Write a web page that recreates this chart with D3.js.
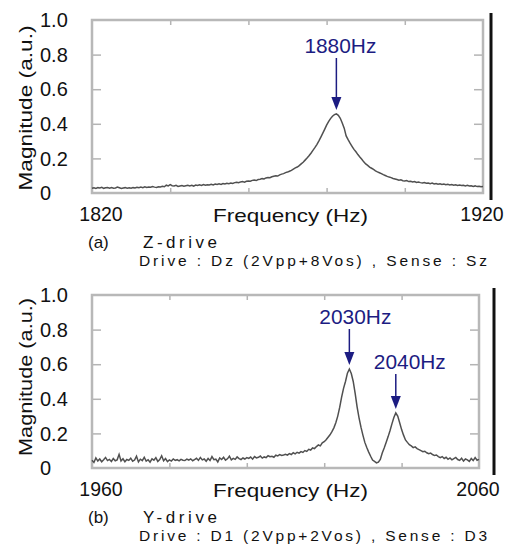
<!DOCTYPE html>
<html>
<head>
<meta charset="utf-8">
<script src="https://cdn.jsdelivr.net/npm/d3@7"></script>
<style>
  body { margin: 0; background: #fff; }
  text { font-family: "Liberation Sans", Arial, sans-serif; }
</style>
</head>
<body>
<div id="viz"></div>
<script>
// z-drive sweep, 1820..1920 Hz every 0.5 Hz
var zStart = 1820, zStep = 0.5;
var zMag = [
  0.028,0.030,0.026,0.031,0.029,0.033,0.027,0.030,0.032,0.028,
  0.031,0.027,0.029,0.034,0.030,0.026,0.029,0.031,0.028,0.030,
  0.027,0.031,0.029,0.033,0.030,0.034,0.031,0.036,0.032,0.035,
  0.033,0.037,0.034,0.032,0.036,0.035,0.039,0.036,0.045,0.041,
  0.048,0.042,0.040,0.044,0.038,0.041,0.043,0.039,0.042,0.045,
  0.041,0.044,0.040,0.046,0.043,0.047,0.044,0.049,0.045,0.048,
  0.046,0.050,0.047,0.052,0.049,0.053,0.050,0.055,0.052,0.056,
  0.054,0.058,0.055,0.060,0.062,0.059,0.064,0.066,0.063,0.068,
  0.070,0.068,0.073,0.075,0.072,0.078,0.080,0.083,0.081,0.087,
  0.090,0.088,0.094,0.097,0.100,0.098,0.105,0.109,0.112,0.118,
  0.121,0.126,0.131,0.138,0.145,0.150,0.158,0.168,0.178,0.190,
  0.202,0.215,0.230,0.246,0.262,0.280,0.300,0.322,0.345,0.368,
  0.392,0.412,0.430,0.444,0.453,0.457,0.449,0.432,0.405,0.375,
  0.330,0.308,0.288,0.270,0.252,0.238,0.222,0.208,0.195,0.180,
  0.168,0.160,0.150,0.143,0.136,0.128,0.122,0.117,0.112,0.106,
  0.101,0.096,0.092,0.089,0.084,0.081,0.078,0.074,0.076,0.071,
  0.069,0.072,0.066,0.068,0.064,0.066,0.061,0.063,0.060,0.058,
  0.060,0.056,0.058,0.054,0.057,0.052,0.055,0.051,0.053,0.049,
  0.052,0.048,0.050,0.047,0.049,0.045,0.048,0.044,0.046,0.043,
  0.045,0.041,0.044,0.040,0.042,0.038,0.041,0.037,0.039,0.036,
  0.037
];

// y-drive sweep, 1960..2060 Hz every 0.5 Hz
var yStart = 1960, yStep = 0.5;
var yMag = [
  0.045,0.032,0.058,0.040,0.052,0.036,0.048,0.061,0.043,0.050,
  0.038,0.055,0.042,0.047,0.079,0.041,0.053,0.036,0.049,0.044,
  0.057,0.039,0.046,0.068,0.035,0.051,0.043,0.062,0.040,0.048,
  0.034,0.053,0.045,0.060,0.038,0.049,0.071,0.042,0.055,0.037,
  0.047,0.040,0.052,0.044,0.048,0.041,0.050,0.045,0.043,0.051,
  0.046,0.053,0.042,0.049,0.056,0.044,0.061,0.047,0.052,0.039,
  0.055,0.043,0.066,0.048,0.051,0.035,0.058,0.049,0.062,0.045,
  0.053,0.068,0.047,0.056,0.050,0.064,0.054,0.049,0.058,0.052,
  0.060,0.055,0.063,0.051,0.066,0.058,0.062,0.069,0.057,0.064,
  0.060,0.071,0.065,0.068,0.062,0.074,0.070,0.077,0.072,0.075,
  0.079,0.074,0.083,0.078,0.088,0.082,0.091,0.086,0.095,0.090,
  0.101,0.096,0.108,0.104,0.116,0.112,0.124,0.133,0.128,0.145,
  0.152,0.163,0.178,0.192,0.210,0.232,0.262,0.300,0.350,0.410,
  0.460,0.500,0.548,0.572,0.546,0.500,0.432,0.354,0.290,0.236,
  0.190,0.148,0.118,0.092,0.068,0.046,0.038,0.030,0.034,0.050,
  0.087,0.115,0.148,0.180,0.215,0.255,0.292,0.318,0.300,0.262,
  0.222,0.190,0.162,0.148,0.135,0.128,0.118,0.122,0.112,0.106,
  0.100,0.094,0.097,0.088,0.083,0.086,0.078,0.072,0.075,0.066,
  0.060,0.066,0.055,0.062,0.050,0.058,0.047,0.054,0.061,0.049,
  0.044,0.056,0.040,0.052,0.047,0.038,0.055,0.043,0.060,0.045,
  0.050
];

var yTicks = [0, 0.2, 0.4, 0.6, 0.8, 1.0];
var yTickLabels = ["0", "0.2", "0.4", "0.6", "0.8", "1.0"];
var zFreqTicks = [1820, 1840, 1860, 1880, 1900, 1920];
var yFreqTicks = [1960, 1980, 2000, 2020, 2040, 2060];

var zPeaks = [{ f: 1882.5, v: 0.457, label: "1880Hz" }];
var yPeaks = [{ f: 2026.5, v: 0.572, label: "2030Hz" },
              { f: 2038.5, v: 0.318, label: "2040Hz" }];

var navy = "#1c1c82";

var svg = d3.select("#viz").append("svg")
  .attr("width", 516)
  .attr("height", 548);

function panel(o) {
  var data = o.mag.map(function(m, i) { return { f: o.start + i * o.step, m: m }; });
  var x = d3.scaleLinear().domain([o.ticks[0], o.ticks[o.ticks.length - 1]]).range([o.left, o.right]);
  var y = d3.scaleLinear().domain([0, 1]).range([o.bottom, o.top]);
  var g = svg.append("g");

  // inner ticks on all four sides
  g.append("g").attr("transform", "translate(0," + o.top + ")")
    .call(d3.axisTop(x).tickValues(o.ticks.slice(1, -1)).tickSize(-5).tickFormat(""));
  g.append("g").attr("transform", "translate(0," + o.bottom + ")")
    .call(d3.axisBottom(x).tickValues(o.ticks.slice(1, -1)).tickSize(-5).tickFormat(""));
  g.append("g").attr("transform", "translate(" + o.left + ",0)")
    .call(d3.axisLeft(y).tickValues(yTicks.slice(1, -1)).tickSize(-9).tickFormat(""));
  g.append("g").attr("transform", "translate(" + o.right + ",0)")
    .call(d3.axisRight(y).tickValues(yTicks.slice(1, -1)).tickSize(-9).tickFormat(""));
  g.selectAll(".domain").remove();
  g.selectAll(".tick line").attr("stroke", "#b4b4b4").attr("stroke-width", 1.5);

  g.append("rect")
    .attr("x", o.left).attr("y", o.top)
    .attr("width", o.right - o.left).attr("height", o.bottom - o.top)
    .attr("fill", "none").attr("stroke", "#b8b8b8").attr("stroke-width", 2.5);

  g.append("path").datum(data)
    .attr("fill", "none")
    .attr("stroke", "#505050")
    .attr("stroke-width", 1.5)
    .attr("d", d3.line().x(function(d) { return x(d.f); }).y(function(d) { return y(d.m); }));

  // black bar on the right
  g.append("line")
    .attr("x1", o.bar).attr("x2", o.bar)
    .attr("y1", o.top - 7).attr("y2", o.bottom + 7)
    .attr("stroke", "#111").attr("stroke-width", 3);

  // y tick labels, left aligned
  g.selectAll(".ylab").data(yTicks).enter().append("text")
    .attr("x", 40)
    .attr("y", function(d) { return y(d); })
    .attr("dy", "0.36em")
    .attr("font-size", 20)
    .attr("fill", "#111")
    .text(function(d, i) { return yTickLabels[i]; });

  // end frequency labels
  var ends = [o.ticks[0], o.ticks[o.ticks.length - 1]];
  g.selectAll(".xlab").data(ends).enter().append("text")
    .attr("x", function(d, i) { return x(d) + (i == 0 ? 9 : -1); })
    .attr("y", o.bottom + 28)
    .attr("text-anchor", "middle")
    .attr("font-size", 19.5)
    .attr("fill", "#111")
    .text(function(d) { return d; });

  g.append("text")
    .attr("x", 213).attr("y", o.bottom + 29)
    .attr("font-size", 19).attr("fill", "#111")
    .attr("textLength", 155).attr("lengthAdjust", "spacingAndGlyphs")
    .text("Frequency (Hz)");

  g.append("text")
    .attr("transform", "translate(32," + o.titleY + ") rotate(-90)")
    .attr("text-anchor", "middle")
    .attr("font-size", 19).attr("fill", "#111")
    .attr("textLength", o.titleLen).attr("lengthAdjust", "spacingAndGlyphs")
    .text("Magnitude (a.u.)");

  // captions
  g.append("text").attr("x", 88).attr("y", o.bottom + 55)
    .attr("font-size", 17).attr("fill", "#111").text(o.tag);
  g.append("text").attr("x", 143).attr("y", o.bottom + 55)
    .attr("font-size", 17).attr("fill", "#111")
    .attr("textLength", 74).attr("lengthAdjust", "spacing")
    .text(o.mode);
  g.append("text").attr("x", 139).attr("y", o.bottom + 73)
    .attr("font-size", 15.5).attr("fill", "#111")
    .attr("textLength", 348).attr("lengthAdjust", "spacing")
    .text(o.note);

  // peak annotations
  o.peaks.forEach(function(p, i) {
    var px = x(p.f), py = y(p.v) - 4;
    var ty = o.labelY[i];
    g.append("text")
      .attr("x", px + o.labelDx[i]).attr("y", ty)
      .attr("text-anchor", "middle")
      .attr("font-size", 21)
      .attr("textLength", 72).attr("lengthAdjust", "spacingAndGlyphs")
      .attr("fill", navy)
      .text(p.label);
    g.append("line")
      .attr("x1", px).attr("x2", px)
      .attr("y1", ty + 5).attr("y2", py - 10)
      .attr("stroke", navy).attr("stroke-width", 1.5);
    g.append("path")
      .attr("d", "M" + (px - 5) + "," + (py - 13) + "L" + (px + 5) + "," + (py - 13) + "L" + px + "," + py + "Z")
      .attr("fill", navy);
  });
}

panel({
  start: zStart, step: zStep, mag: zMag, ticks: zFreqTicks, peaks: zPeaks,
  left: 92, right: 483, top: 20, bottom: 193, bar: 491,
  titleY: 108, titleLen: 165, labelY: [53], labelDx: [4],
  tag: "(a)", mode: "Z-drive", note: "Drive : Dz (2Vpp+8Vos) , Sense : Sz"
});

panel({
  start: yStart, step: yStep, mag: yMag, ticks: yFreqTicks, peaks: yPeaks,
  left: 92, right: 479, top: 295, bottom: 468, bar: 494,
  titleY: 377, titleLen: 158, labelY: [324, 369], labelDx: [6, 14],
  tag: "(b)", mode: "Y-drive", note: "Drive : D1 (2Vpp+2Vos) , Sense : D3"
});
</script>
</body>
</html>
